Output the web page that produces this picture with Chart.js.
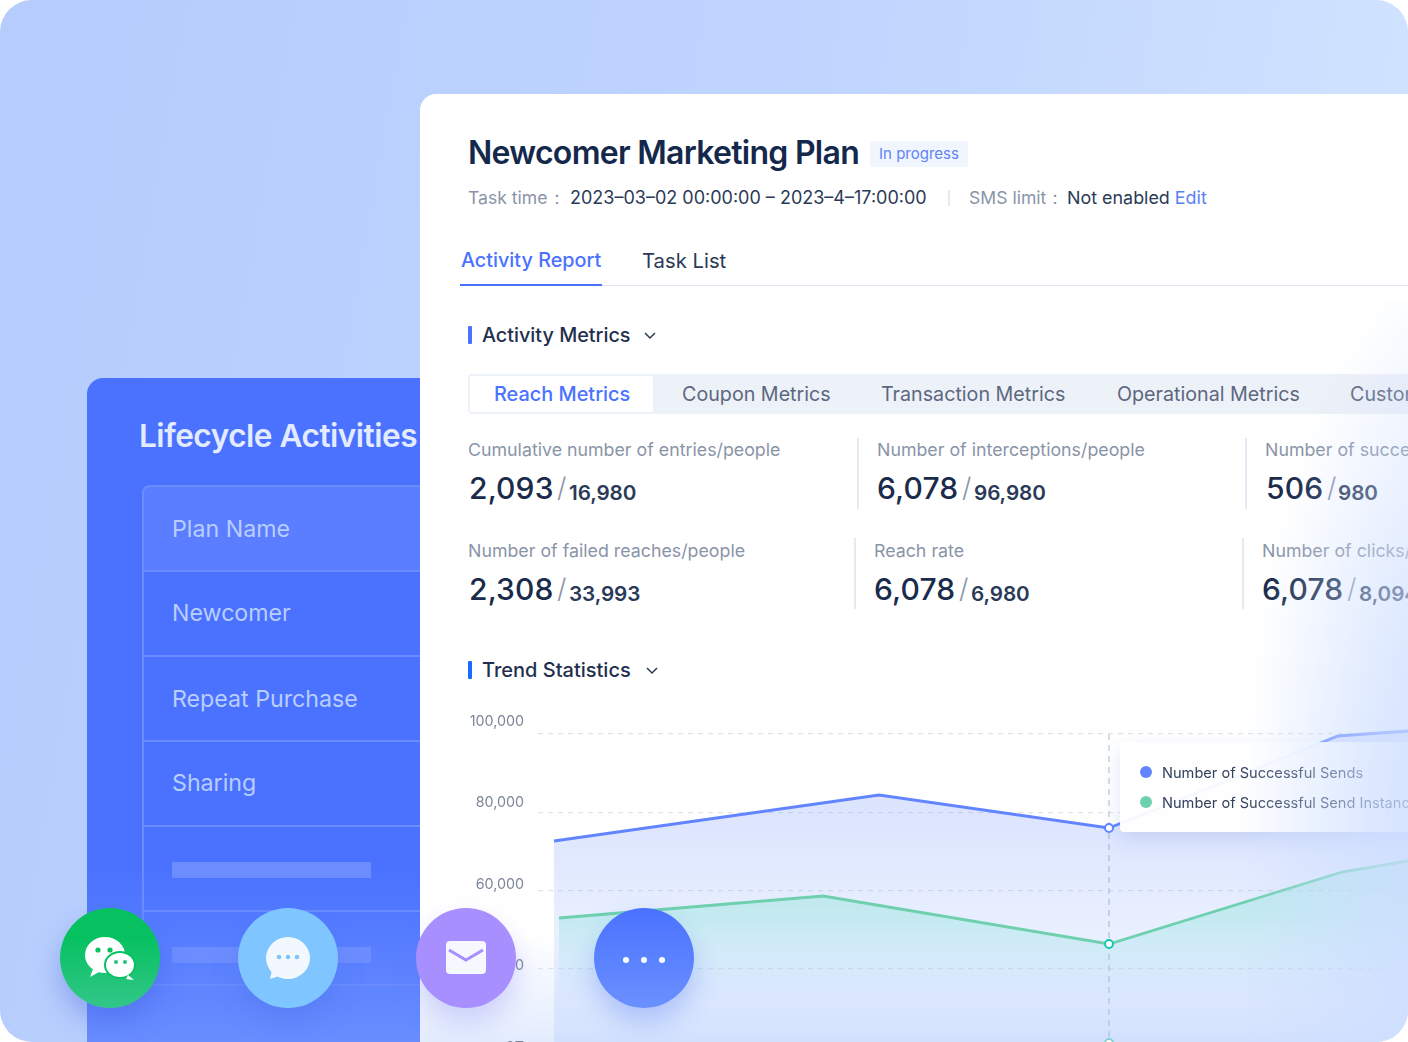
<!DOCTYPE html>
<html><head><meta charset="utf-8">
<script src="https://cdn.jsdelivr.net/npm/chart.js@4/dist/chart.umd.min.js"></script>
<style>
html,body{margin:0;padding:0;background:#fff;width:1408px;height:1042px;overflow:hidden;font-family:Inter,"Noto Sans",sans-serif}
#stage{position:absolute;left:0;top:0;width:1408px;height:1042px;border-radius:32px;overflow:hidden;background:linear-gradient(100deg,#b5ccfd 0%,#bfd4fe 50%,#d4e6ff 100%)}
.a{position:absolute;white-space:nowrap}
#lp{position:absolute;left:87px;top:378px;width:360px;height:700px;border-radius:16px;background:linear-gradient(180deg,#4a72ff 0%,#4a72ff 70%,#6f93ff 100%);overflow:hidden}
.row{position:absolute;left:55px;width:340px;border-left:2px solid #6a8cff;border-bottom:2px solid #6a8cff;box-sizing:border-box;color:#b9ceff;font-size:23.2px;padding-left:28px}
#panel{position:absolute;left:420px;top:94px;width:1010px;height:960px;border-radius:16px 0 0 0;background:linear-gradient(180deg,#fff 0,#fff 840px,#e3ecfe 948px,#dfe9fe 100%)}
.lab{font-size:17.8px;color:#8a94a8}
.big{font-size:30px;font-weight:500;color:#1a2b4b;letter-spacing:.15px}
.sl{font-size:27px;font-weight:300;color:#8a94a8}
.sub{font-size:20.7px;font-weight:600;color:#2a3a58;letter-spacing:-.1px}
.vl{position:absolute;width:1.5px;background:#e4e9f2}
.tab{font-size:19.7px;color:#5c687f}
#cw{position:absolute;left:420px;top:700px;width:988px;height:360px}
#tip{position:absolute;left:1120px;top:742px;width:320px;height:90px;background:rgba(255,255,255,.95);border-radius:4px;box-shadow:0 8px 20px rgba(110,135,210,.22)}
#tip span{position:absolute;left:42px;font-size:14.6px;color:#33415c;white-space:nowrap}
#tip i{position:absolute;left:20px;width:12px;height:12px;border-radius:50%}
#fade{position:absolute;left:1100px;top:300px;width:308px;height:742px;background:radial-gradient(ellipse 240px 620px at 380px 560px,rgba(203,221,255,.96) 0,rgba(205,222,255,.7) 45%,rgba(215,228,255,0) 100%);pointer-events:none}
.c{position:absolute;top:908px;width:100px;height:100px;border-radius:50%}
.c svg{position:absolute;left:0;top:0;width:100px;height:100px}
</style></head><body>
<div id="stage">
 <div id="lp">
  <div class="a" style="left:52px;top:38px;font-size:31.6px;font-weight:600;color:#e2ebff;letter-spacing:-.5px">Lifecycle Activities</div>
  <div class="row" style="top:107px;height:87px;line-height:85px;background:#5a7eff;border-top:2px solid #6a8cff;border-top-left-radius:8px">Plan Name</div>
  <div class="row" style="top:194px;height:85px;line-height:82px">Newcomer</div>
  <div class="row" style="top:279px;height:85px;line-height:84px">Repeat Purchase</div>
  <div class="row" style="top:364px;height:85px;line-height:82px">Sharing</div>
  <div class="row" style="top:449px;height:85px"></div>
  <div class="row" style="top:534px;height:74px"></div>
  <div class="a" style="left:85px;top:484px;width:199px;height:16px;background:#6c8dff"></div>
  <div class="a" style="left:85px;top:569px;width:199px;height:16px;background:#6c8dff"></div>
 </div>
 <div id="panel"></div>

 <div class="a" style="left:468px;top:133px;font-size:32px;font-weight:600;color:#14284b;letter-spacing:-.72px">Newcomer Marketing Plan</div>
 <div class="a" style="left:870px;top:141px;width:98px;height:26px;background:#f1f5fe;border-radius:2px;color:#5f84f5;font-size:15px;line-height:26px;text-align:center">In progress</div>
 <div class="a" style="left:468px;top:186px;font-size:17.6px;color:#8a94a8">Task time：</div>
 <div class="a" style="left:570px;top:187px;font-size:18px;color:#2b3a55">2023–03–02 00:00:00 – 2023–4–17:00:00</div>
 <div class="vl" style="left:948px;top:190px;height:16px"></div>
 <div class="a" style="left:969px;top:186px;font-size:17.6px;color:#8a94a8">SMS limit：</div>
 <div class="a" style="left:1067px;top:187px;font-size:17.9px;color:#2b3a55">Not enabled <span style="color:#5b80f5">Edit</span></div>

 <div class="a" style="left:461px;top:248px;font-size:19.8px;font-weight:500;color:#4a72ff">Activity Report</div>
 <div class="a" style="left:642px;top:248px;font-size:20.3px;color:#2b3a55">Task List</div>
 <div class="a" style="left:460px;top:285px;width:948px;height:1px;background:#dfe4ee"></div>
 <div class="a" style="left:460px;top:284px;width:142px;height:2px;background:#4a72ff"></div>

 <div class="a" style="left:468px;top:326px;width:4px;height:18px;background:#4a72ff;border-radius:1px"></div>
 <div class="a" style="left:482px;top:323px;font-size:19.8px;font-weight:500;color:#1f2f4e">Activity Metrics</div>
 <svg class="a" style="left:644px;top:331px" width="12" height="10"><path d="M1 2l5 5 5-5" fill="none" stroke="#2b3a55" stroke-width="1.5"/></svg>

 <div class="a" style="left:468px;top:374px;width:960px;height:40px;background:#edf1f8;border-radius:4px"></div>
 <div class="a" style="left:470px;top:376px;width:183px;height:36px;background:#fff;border-radius:2px"></div>
 <div class="a tab" style="left:494px;top:382px;color:#4a72ff;font-weight:500;font-size:19.9px">Reach Metrics</div>
 <div class="a tab" style="left:682px;top:382px">Coupon Metrics</div>
 <div class="a tab" style="left:881px;top:382px">Transaction Metrics</div>
 <div class="a tab" style="left:1117px;top:382px">Operational Metrics</div>
 <div class="a tab" style="left:1350px;top:382px">Custom</div>

 <div class="a lab" style="left:468px;top:439px">Cumulative number of entries/people</div>
 <div class="a big" style="left:469px;top:470px">2,093</div><div class="a sl" style="left:557px;top:471px">/</div><div class="a sub" style="left:569px;top:480px">16,980</div>
 <div class="vl" style="left:857px;top:438px;height:71px"></div>
 <div class="a lab" style="left:877px;top:439px">Number of interceptions/people</div>
 <div class="a big" style="left:877px;top:470px">6,078</div><div class="a sl" style="left:962px;top:471px">/</div><div class="a sub" style="left:974px;top:480px">96,980</div>
 <div class="vl" style="left:1245px;top:438px;height:71px"></div>
 <div class="a lab" style="left:1265px;top:439px">Number of successful</div>
 <div class="a big" style="left:1266px;top:470px">506</div><div class="a sl" style="left:1327px;top:471px">/</div><div class="a sub" style="left:1338px;top:480px">980</div>

 <div class="a lab" style="left:468px;top:540px">Number of failed reaches/people</div>
 <div class="a big" style="left:469px;top:571px">2,308</div><div class="a sl" style="left:557px;top:572px">/</div><div class="a sub" style="left:569px;top:581px">33,993</div>
 <div class="vl" style="left:854px;top:538px;height:71px"></div>
 <div class="a lab" style="left:874px;top:540px">Reach rate</div>
 <div class="a big" style="left:874px;top:571px">6,078</div><div class="a sl" style="left:959px;top:572px">/</div><div class="a sub" style="left:971px;top:581px">6,980</div>
 <div class="vl" style="left:1242px;top:538px;height:71px"></div>
 <div class="a lab" style="left:1262px;top:540px">Number of clicks/people</div>
 <div class="a big" style="left:1262px;top:571px">6,078</div><div class="a sl" style="left:1347px;top:572px">/</div><div class="a sub" style="left:1359px;top:581px">8,094</div>

 <div class="a" style="left:468px;top:661px;width:4px;height:18px;background:#1a6bff;border-radius:1px"></div>
 <div class="a" style="left:482px;top:658px;font-size:20px;font-weight:500;color:#1f2f4e">Trend Statistics</div>
 <svg class="a" style="left:646px;top:666px" width="12" height="10"><path d="M1 2l5 5 5-5" fill="none" stroke="#2b3a55" stroke-width="1.5"/></svg>

 <div id="cw"><canvas id="chart" width="988" height="360" style="width:988px;height:360px;display:block"></canvas></div>

 <div id="tip">
  <i style="top:24px;background:#6285ff"></i><span style="top:22px">Number of Successful Sends</span>
  <i style="top:54px;background:#6ed0af"></i><span style="top:52px">Number of Successful Send Instances</span>
 </div>
 <div id="fade"></div>

 <div class="c" style="left:60px;background:linear-gradient(180deg,#07c160 30%,#33c68a 100%);box-shadow:0 14px 26px rgba(60,90,220,.35)">
  <svg viewBox="0 0 100 100"><ellipse cx="45" cy="47" rx="20" ry="18" fill="#fff"/><path d="M33 61l-3 8 9-5z" fill="#fff"/><circle cx="38" cy="42" r="2.6" fill="#07c160"/><circle cx="50" cy="42" r="2.6" fill="#07c160"/><ellipse cx="60" cy="57" rx="15" ry="13" fill="#fff" stroke="#07c160" stroke-width="2"/><path d="M68 67l6 5-8-1z" fill="#fff"/><circle cx="56" cy="54" r="2" fill="#20c47a"/><circle cx="65" cy="54" r="2" fill="#20c47a"/></svg></div>
 <div class="c" style="left:238px;background:#7fc5ff;box-shadow:0 14px 26px rgba(70,110,230,.3)">
  <svg viewBox="0 0 100 100"><ellipse cx="50" cy="50" rx="22" ry="21" fill="#f3f8ff"/><path d="M34 62l-2 9 12-4z" fill="#f3f8ff"/><circle cx="41" cy="49" r="2.3" fill="#7fc5ff"/><circle cx="50" cy="49" r="2.3" fill="#7fc5ff"/><circle cx="59" cy="49" r="2.3" fill="#7fc5ff"/></svg></div>
 <div class="c" style="left:416px;background:#a88fff;box-shadow:0 14px 26px rgba(120,120,240,.28)">
  <svg viewBox="0 0 100 100"><rect x="30" y="33" width="40" height="33" rx="4" fill="#f5f8ff"/><path d="M33 42l17 10 17-10" fill="none" stroke="#a88fff" stroke-width="3"/></svg></div>
 <div class="c" style="left:594px;background:linear-gradient(180deg,#4a72ff 0%,#6a90ff 100%);box-shadow:0 14px 26px rgba(70,110,240,.3)">
  <svg viewBox="0 0 100 100"><circle cx="32" cy="52" r="3" fill="#fff"/><circle cx="50" cy="52" r="3" fill="#fff"/><circle cx="68" cy="52" r="3" fill="#fff"/></svg></div>
</div>

<script>
// series; the x unit is a position along the time axis
const tickLabels = ['100,000','80,000','60,000','40,000','0T'];
const tickValues = [100000,80000,60000,40000,20000];
const sendsX = [1.6,34.1,57.1,80.0,87.0];
const sendsY = [72670,84420,75990,99490,100770];
const instancesX = [2.1,28.5,57.1,80.4,87.0];
const instancesY = [53000,58620,46360,64750,67560];
const focusX = [57.1];
const thirdY = [21075];
const seriesNames = ['Number of Successful Sends','Number of Successful Send Instances'];
const xRange = [0,87];
const gridRange = [16730,108685];
const labelRange = [16930,105270];

const pts = (xs,ys)=>xs.map((x,i)=>({x,y:ys[i]}));
function grad(stops){
  return c=>{
    const a=c.chart.chartArea; if(!a) return 'transparent';
    const g=c.chart.ctx.createLinearGradient(0,a.top,0,a.bottom);
    stops.forEach(s=>g.addColorStop(s[0],s[1]));
    return g;
  };
}
const focusRadius = c => c.raw && c.raw.x===focusX[0] ? 4 : 0;
new Chart(document.getElementById('chart'),{
  type:'line',
  data:{datasets:[
    {label:'third',data:pts(focusX,thirdY),order:0,showLine:false,pointRadius:4,pointBorderWidth:2,pointBackgroundColor:'#fff',pointBorderColor:'#7fd6cc',clip:false},
    {label:seriesNames[1],data:pts(instancesX,instancesY),order:1,borderColor:'#6ed0af',borderWidth:2.8,tension:0,fill:'start',
     backgroundColor:grad([[0,'rgba(110,225,195,.42)'],[.6,'rgba(110,225,205,.30)'],[.84,'rgba(120,210,240,0)'],[1,'rgba(120,210,240,0)']]),
     pointRadius:focusRadius,pointBorderWidth:2,pointBackgroundColor:'#fff',pointBorderColor:'#14c9b0'},
    {label:seriesNames[0],data:pts(sendsX,sendsY),order:2,borderColor:'#6285ff',borderWidth:2.8,tension:0,fill:'start',
     backgroundColor:grad([[0,'rgba(90,130,250,.21)'],[.3,'rgba(90,130,250,.21)'],[.7,'rgba(90,140,255,.12)'],[1,'rgba(100,155,255,.13)']]),
     pointRadius:focusRadius,pointBorderWidth:2,pointBackgroundColor:'#fff',pointBorderColor:'#6285ff'},
    {label:'focus',data:pts([focusX[0],focusX[0]],[tickValues[0],gridRange[0]]),order:3,borderColor:'#bcc6d8',borderWidth:1.2,borderDash:[6,5],pointRadius:0,fill:false}
  ]},
  options:{
    responsive:false,animation:false,devicePixelRatio:1,
    layout:{padding:0,autoPadding:false},
    plugins:{legend:{display:false},tooltip:{enabled:false}},
    scales:{
      x:{type:'linear',display:false,min:xRange[0],max:xRange[1]},
      y:{position:'left',min:gridRange[0],max:gridRange[1],
         afterFit:s=>{s.width=0},
         afterBuildTicks:s=>{s.ticks=tickValues.map(v=>({value:v}))},
         ticks:{display:false,autoSkip:false},
         border:{display:false,dash:[5,5]},
         grid:{color:'#dfe3ec',lineWidth:1.2,drawTicks:false}
      },
      yLabels:{position:'left',min:labelRange[0],max:labelRange[1],
         afterFit:s=>{s.width=118;s.paddingTop=0;s.paddingBottom=0},
         afterBuildTicks:s=>{s.ticks=tickValues.map(v=>({value:v}))},
         border:{display:false},grid:{display:false},
         ticks:{autoSkip:false,padding:6,color:'#7c8598',font:{family:'Inter',size:14.3},
           callback:v=>tickLabels[tickValues.indexOf(v)]}
      }
    }
  }
});
</script>
</body></html>
